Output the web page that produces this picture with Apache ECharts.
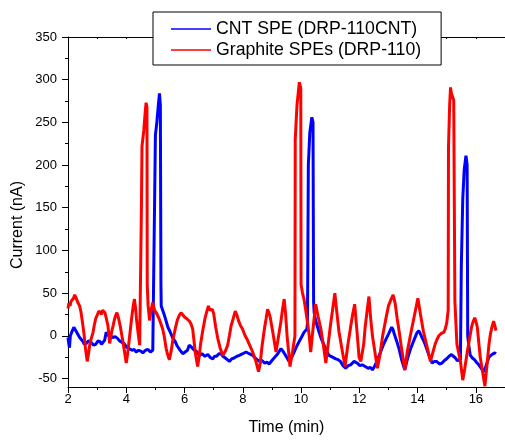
<!DOCTYPE html>
<html>
<head>
<meta charset="utf-8">
<script src="https://cdn.jsdelivr.net/npm/echarts@6/dist/echarts.min.js"></script>
<style>
  html, body { margin: 0; padding: 0; background: #fff; }
  #chart { width: 505px; height: 441px; }
</style>
</head>
<body>
<div id="chart"></div>
<script>
// Amperometric response of two screen-printed electrodes (current vs. time)

const seriesNames = ['CNT SPE (DRP-110CNT)', 'Graphite SPEs (DRP-110)'];

// CNT SPE trace (time in min, current in nA)
const cntTime = [
  2.00, 2.03, 2.05, 2.08, 2.10, 2.15, 2.20, 2.25, 2.30, 2.35, 2.40, 2.45, 2.50, 2.56, 2.63, 2.70, 2.80, 2.88, 2.95,
  3.03, 3.10, 3.15, 3.20, 3.26, 3.31, 3.36, 3.40, 3.47, 3.54, 3.62, 3.70, 3.77, 3.83, 3.92, 4.00, 4.10, 4.20, 4.27, 4.34,
  4.42, 4.50, 4.57, 4.66, 4.75, 4.83, 4.91, 4.95, 4.97, 5.00, 5.05, 5.10, 5.14,
  5.17, 5.19, 5.20, 5.25, 5.30, 5.37, 5.43, 5.50, 5.60, 5.67, 5.75, 5.85, 5.94, 6.02, 6.10,
  6.16, 6.23, 6.31, 6.40, 6.51, 6.60, 6.70, 6.80, 6.90, 6.97, 7.03, 7.10, 7.18, 7.25, 7.32, 7.40, 7.47, 7.54, 7.62, 7.70,
  7.80, 7.88, 8.00, 8.11, 8.22, 8.34, 8.45, 8.57, 8.66, 8.75, 8.83, 8.91, 9.00, 9.10, 9.20, 9.31, 9.38, 9.45, 9.52, 9.59,
  9.67, 9.75, 9.84, 9.93, 10.01, 10.10, 10.16, 10.20, 10.22, 10.25, 10.30, 10.37, 10.41, 10.43,
  10.45, 10.50, 10.55, 10.62, 10.70, 10.79, 10.88, 10.96, 11.08, 11.19, 11.27, 11.35, 11.44, 11.53, 11.62, 11.70, 11.82, 11.93,
  12.02, 12.10, 12.20, 12.30, 12.38, 12.45, 12.52, 12.60, 12.67, 12.73, 12.82, 12.90, 13.00, 13.11, 13.16, 13.20, 13.28, 13.36, 13.46, 13.56,
  13.66, 13.76, 13.83, 13.90, 13.97, 14.04, 14.10, 14.15, 14.21, 14.27, 14.38, 14.50, 14.58, 14.65, 14.75, 14.84, 14.92, 15.00, 15.08, 15.16,
  15.23, 15.30, 15.36, 15.41, 15.47, 15.50, 15.55, 15.60, 15.66, 15.70, 15.72, 15.77, 15.81,
  15.88, 15.95, 16.02, 16.10, 16.18, 16.27, 16.34, 16.40, 16.45, 16.50, 16.55, 16.60, 16.65, 16.69
];
const cntCurrent = [
  -2, -10, -14, 0, 2, 6, 10, 7, 4, 1, -2, -4, -6, -10, -9, -6, -8, -11, -10,
  -6, -7, -10, -8, -5, 4, 1, 2, 0, -2, -1, -3, -6, -5, -9, -13, -15, -17, -16, -19,
  -17, -18, -20, -17, -16, -19, -17, -15, 150, 235, 250, 270, 284,
  270, 60, 35, 30, 25, 17, 10, 5, -3, -6, -12, -17, -21, -19, -17,
  -11, -13, -16, -18, -23, -21, -24, -22, -26, -27, -24, -24, -21, -21, -24, -26, -28, -30, -27, -26,
  -24, -23, -21, -19, -21, -23, -27, -30, -29, -32, -31, -33, -29, -25, -21, -15, -18, -22, -26, -30,
  -26, -20, -13, -7, -2, 4, 6, 8, 15, 200, 238, 256, 250, 40,
  27, 18, 12, 4, -4, -11, -18, -23, -25, -27, -28, -30, -35, -38, -35, -34, -30, -32,
  -35, -34, -36, -38, -37, -40, -36, -30, -24, -19, -11, -5, 2, 10, 7, 2, -6, -15, -29, -40,
  -26, -15, -9, -3, 3, 6, 2, -2, -6, -11, -22, -32, -30, -30, -33, -32, -29, -27, -24, -22,
  -24, -26, -29, -30, -28, 80, 160, 195, 211, 200, 0, -15, -23,
  -26, -28, -31, -34, -38, -42, -36, -30, -25, -23, -22, -22, -20, -21
];

// Graphite SPE trace (time in min, current in nA)
const graphiteTime = [
  2.00, 2.03, 2.07, 2.10, 2.15, 2.19, 2.23, 2.27, 2.30, 2.35, 2.40, 2.45, 2.50, 2.55, 2.60, 2.66,
  2.70, 2.75, 2.80, 2.86, 2.90, 2.95, 3.00, 3.06, 3.10, 3.15, 3.19, 3.22, 3.27, 3.31, 3.37, 3.43, 3.50,
  3.55, 3.60, 3.64, 3.68, 3.74, 3.80, 3.90, 4.00, 4.05, 4.10, 4.15, 4.20, 4.24, 4.28, 4.32, 4.35, 4.40, 4.46,
  4.51, 4.52, 4.54, 4.60, 4.65, 4.68, 4.71, 4.72, 4.75, 4.80,
  4.85, 4.91, 4.97, 5.03, 5.10, 5.15, 5.20, 5.25, 5.30, 5.37, 5.42, 5.48, 5.54, 5.60,
  5.68, 5.75, 5.82, 5.88, 5.94, 6.00, 6.08, 6.17, 6.22, 6.28, 6.37, 6.45, 6.50, 6.55, 6.62, 6.70, 6.76, 6.82,
  6.86, 6.90, 6.95, 7.00, 7.07, 7.14, 7.22, 7.31, 7.40, 7.48, 7.54, 7.60, 7.67, 7.74, 7.80, 7.85, 7.92, 7.99, 8.08, 8.16,
  8.25, 8.34, 8.45, 8.54, 8.60, 8.65, 8.70, 8.75, 8.80, 8.85, 8.90, 8.95, 9.00, 9.05, 9.14, 9.22, 9.30, 9.36, 9.42,
  9.47, 9.52, 9.57, 9.62, 9.70, 9.79, 9.80, 9.86, 9.94, 9.99, 10.00, 10.05,
  10.10, 10.16, 10.22, 10.28, 10.33, 10.41, 10.50, 10.59, 10.68, 10.77, 10.85, 10.93, 11.00, 11.08, 11.16, 11.22, 11.30, 11.40, 11.51,
  11.60, 11.70, 11.77, 11.84, 11.92, 11.99, 12.05, 12.10, 12.15, 12.20, 12.27, 12.33, 12.39, 12.45, 12.53, 12.62, 12.71, 12.80, 12.90, 13.00,
  13.08, 13.16, 13.23, 13.30, 13.38, 13.45, 13.56, 13.65, 13.75, 13.88, 14.01, 14.10, 14.20, 14.32, 14.44, 14.52, 14.60, 14.67, 14.73,
  14.82, 14.90, 14.95, 15.00, 15.05, 15.06, 15.10, 15.13, 15.16, 15.20, 15.24, 15.27, 15.28, 15.35,
  15.41, 15.47, 15.55, 15.62, 15.70, 15.78, 15.85, 15.90, 15.96, 16.00, 16.05, 16.10, 16.15, 16.23, 16.31, 16.38, 16.45, 16.50, 16.55,
  16.61, 16.65, 16.69
];
const graphiteCurrent = [
  32, 38, 35, 40, 38, 44, 48, 45, 44, 38, 35, 27, 15, 2, -15, -30,
  -22, -10, -3, 4, 12, 20, 24, 29, 27, 25, 30, 30, 27, 26, 12, -9, 5,
  12, 20, 24, 27, 20, 10, -10, -32, -20, -5, 10, 25, 35, 43, 32, 20, 5, -11,
  -10, 150, 222, 240, 262, 273, 268, 60, 35, 18,
  30, 39, 30, 27, 22, 18, 16, 8, 0, -15, -22, -28, -18, -5,
  8, 18, 24, 27, 25, 22, 20, 17, 14, 8, -20, -36, -25, -10, 5, 20, 28, 35,
  30, 28, 31, 26, 10, -3, -14, -23, -18, -11, 0, 12, 20, 29, 24, 18, 12, 8, 0, -5,
  -12, -19, -30, -42, -32, -15, -2, 10, 20, 31, 27, 20, 10, 0, -19, -2, 15, 30, 43,
  25, 0, -18, -36, -20, 0, 230, 270, 297, 290, 60, 50,
  43, 30, 16, 0, -19, 8, 37, 22, 8, -12, -32, -10, 10, 30, 50, 30, 5, -15, -36,
  -12, 10, 25, 37, 5, -25, -30, -30, -10, 10, 30, 46, 20, 0, -18, -38, -22, 0, 18, 35,
  42, 48, 38, 20, 2, -15, -40, -18, 0, 22, 44, 25, 5, -12, -30, -20, -10, -4, 0,
  3, 4, 8, 15, 30, 220, 270, 291, 284, 280, 276, 274, 40, -10,
  -20, -30, -52, -38, -20, -4, 10, 16, 21, 17, 10, -8, -25, -42, -59, -35, -10, 2, 10,
  17, 12, 6
];

// Axis ticks
const yMajorTicks = [-50, 0, 50, 100, 150, 200, 250, 300, 350];
const yMinorTicks = [-25, 25, 75, 125, 175, 225, 275, 325];

const zip = (xs, ys) => xs.map((x, i) => [x, ys[i]]);

const FONT = '"Liberation Sans", Arial, sans-serif';
const chart = echarts.init(document.getElementById('chart'), null, { renderer: 'canvas' });

const axisLine = { show: true, onZero: false, lineStyle: { color: '#000', width: 1 } };

chart.setOption({
  animation: false,
  backgroundColor: '#fff',
  textStyle: { fontFamily: FONT },
  grid: { left: 68, top: 37, width: 438, height: 355, containLabel: false },
  legend: {
    left: 153, top: 12,
    orient: 'vertical',
    data: seriesNames,
    icon: 'rect',
    itemWidth: 40, itemHeight: 1.5, itemGap: 1,
    padding: [7, 20, 5, 18],
    borderColor: '#000', borderWidth: 1,
    backgroundColor: '#fff',
    textStyle: { fontSize: 17.7, color: '#000', lineHeight: 20, fontFamily: FONT }
  },
  xAxis: [
    {
      type: 'value', min: 2, max: 17, interval: 2, position: 'bottom',
      axisLine: axisLine, splitLine: { show: false },
      axisTick: { show: true, inside: false, length: 6, lineStyle: { color: '#000' } },
      minorTick: { show: true, splitNumber: 2, length: 3, lineStyle: { color: '#000' } },
      axisLabel: { color: '#000', fontSize: 13, margin: 6, showMaxLabel: false, fontFamily: FONT },
      name: 'Time (min)', nameLocation: 'middle', nameGap: 33,
      nameTextStyle: { color: '#000', fontSize: 16, fontFamily: FONT }
    },
    {
      type: 'value', min: 2, max: 17, interval: 1, position: 'top',
      axisLine: axisLine, splitLine: { show: false },
      axisTick: { show: true, inside: true, length: 2, lineStyle: { color: '#000' } },
      axisLabel: { show: false }
    }
  ],
  yAxis: [
    {
      type: 'value', min: -60, max: 350, position: 'left',
      axisLine: axisLine, splitLine: { show: false },
      axisTick: { show: true, inside: false, length: 6, customValues: yMajorTicks, lineStyle: { color: '#000' } },
      axisLabel: { color: '#000', fontSize: 13, margin: 11, customValues: yMajorTicks, fontFamily: FONT }
    },
    {
      type: 'value', min: -60, max: 350, position: 'left', offset: 0,
      axisLine: { show: false, onZero: false },
      splitLine: { show: false },
      axisTick: { show: true, inside: false, length: 3, customValues: yMinorTicks, lineStyle: { color: '#000' } },
      axisLabel: { show: false, customValues: yMinorTicks }
    }
  ],
  graphic: [{
    type: 'text',
    x: 18, y: 225,
    rotation: Math.PI / 2,
    style: {
      text: 'Current (nA)',
      font: '16px ' + FONT,
      fill: '#000',
      align: 'center',
      verticalAlign: 'middle'
    }
  }],
  series: [
    {
      name: seriesNames[0], type: 'line', data: zip(cntTime, cntCurrent),
      symbol: 'none', showSymbol: false, clip: true,
      color: '#0000ff',
      lineStyle: { color: '#0000ff', width: 3 }
    },
    {
      name: seriesNames[1], type: 'line', data: zip(graphiteTime, graphiteCurrent),
      symbol: 'none', showSymbol: false, clip: true,
      color: '#ff0000',
      lineStyle: { color: '#ff0000', width: 3 }
    }
  ]
});
</script>
</body>
</html>
